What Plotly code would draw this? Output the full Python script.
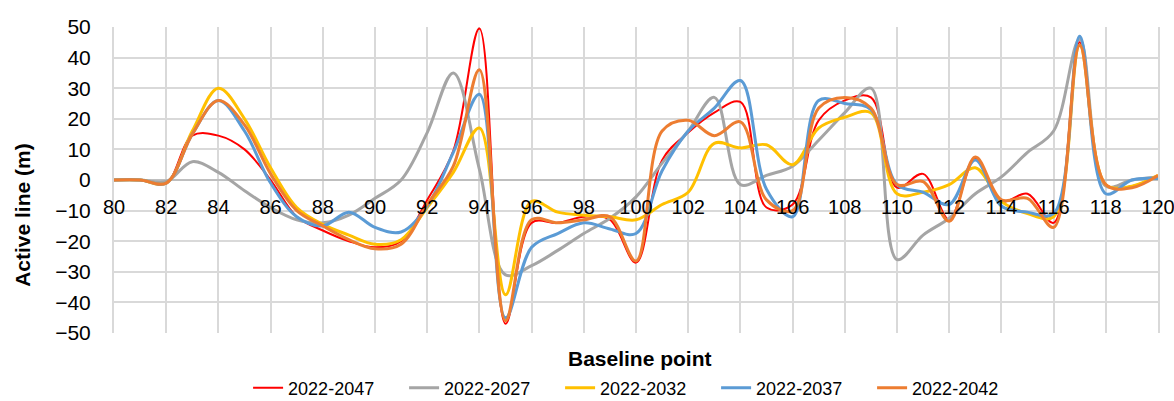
import plotly.graph_objects as go

x_points = list(range(80, 121))

series_names = ["2022-2047", "2022-2027", "2022-2032", "2022-2037", "2022-2042"]

s2047 = [0, 0, -1, 14.5, 14.5, 10, 0, -12, -16.5, -20, -22, -20, -6.5, 9.5, 49.5, -47, -14, -14, -12, -13,
         -27, 6.5, 15.5, 22, 25.5, -9, -8, 19.5, 26, 27, -2.5, 2, -13, 7, -7, -4.5, -14, 45, -1.5, -2, 1.5]
s2027 = [0, 0, -0.5, 6, 2.5, -3.5, -9, -13, -14, -11.5, -6, 0, 15.5, 35, 3.5, -31, -28, -23, -17.5, -12.5,
         -5.5, 5.5, 16, 27, -1.5, 1.5, 4.5, 13, 22, 30, -26, -18, -12.5, -4.5, 1, 9, 16, 46, -2, 0, 1]
s2032 = [0, 0, -1, 16, 30, 20, 4, -9, -14.5, -18, -21, -19.5, -9, 2.5, 17, -37.5, -7, -10.5, -11.5, -12,
         -13, -8, -4, 12, 10.5, 11.5, 5, 17, 20.5, 22, -4.5, -4, -1.5, 4, -7, -11, -12, 44, -1.5, -2, 1.5]
s2037 = [0, 0, -1, 15, 26, 16, -1, -12, -15, -10.5, -15.5, -17, -8.5, 9, 28, -45, -22, -17.5, -14, -16,
         -17.5, 3, 16, 23.5, 32.5, -3, -12, 26, 25, 23, -1.5, -4, -8, 6.5, -8.5, -10.5, -11, 47, -4.5, 0, 0.5]
s2042 = [0, 0, -1, 15, 26, 18, 2, -10, -15, -19.5, -22.5, -21, -8, 4.5, 36, -46, -13, -14, -13, -12,
         -26.5, 16, 19.5, 14.5, 19, -6.5, -10, 23.5, 27, 23.5, -1.5, -0.5, -13.5, 7.5, -6.5, -6, -15.5, 44, -1.5, -2.5, 1.5]

series_values = [s2047, s2027, s2032, s2037, s2042]
colors = ["#ff0000", "#a5a5a5", "#ffc000", "#5b9bd5", "#ed7d31"]
widths = [2, 3, 3, 3, 3]

FONT = "Liberation Sans, Arial, sans-serif"

fig = go.Figure()
for name, vals, c, w in zip(series_names, series_values, colors, widths):
    fig.add_trace(go.Scatter(x=x_points, y=vals, name=name, mode="lines",
                             line=dict(color=c, width=w, shape="spline", smoothing=1)))

fig.update_layout(
    width=1174, height=401,
    margin=dict(l=114, r=16, t=27, b=68, autoexpand=False),
    paper_bgcolor="white", plot_bgcolor="white",
    font=dict(family=FONT, color="#000000"),
    showlegend=True,
    legend=dict(orientation="h", x=0.502, xanchor="center", y=-0.24, yanchor="bottom",
                font=dict(size=18, family=FONT), entrywidth=111, entrywidthmode="pixels",
                bgcolor="rgba(0,0,0,0)"),
    xaxis=dict(range=[80, 120], tick0=80, dtick=2, showgrid=True, gridcolor="#d9d9d9", gridwidth=2,
               zeroline=False, showline=False, anchor="free", position=0.5,
               ticks="outside", ticklen=9, tickcolor="rgba(0,0,0,0)", ticklabeloverflow="allow",
               tickfont=dict(size=20, family=FONT, color="#000000")),
    yaxis=dict(range=[-50, 50], tick0=-50, dtick=10, showgrid=True, gridcolor="#d9d9d9", gridwidth=2,
               zeroline=True, zerolinecolor="#bfbfbf", zerolinewidth=2,
               showline=True, mirror=True, linecolor="#d9d9d9", linewidth=2,
               ticks="outside", ticklen=17, tickcolor="rgba(0,0,0,0)",
               tickfont=dict(size=21, family=FONT, color="#000000")),
    annotations=[
        dict(text="<b>Baseline point</b>", xref="paper", yref="paper", x=0.504, y=-0.082,
             xanchor="center", yanchor="middle", showarrow=False, font=dict(size=21, family=FONT)),
        dict(text="<b>Active line (m)</b>", xref="paper", yref="paper", x=-0.0872, y=0.386,
             xanchor="center", yanchor="middle", textangle=-90, showarrow=False,
             font=dict(size=21, family=FONT)),
    ],
)

fig.write_html("out.html")
